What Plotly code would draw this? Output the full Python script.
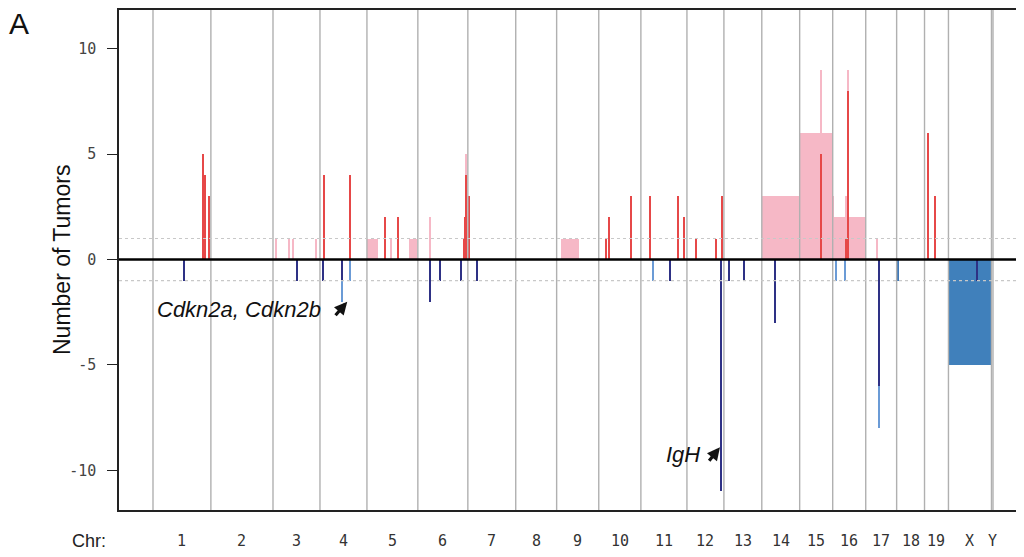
import plotly.graph_objects as go

# ---------------- data ----------------
CHROMS = ["1", "2", "3", "4", "5", "6", "7", "8", "9", "10", "11", "12", "13",
          "14", "15", "16", "17", "18", "19", "X", "Y"]
CHROM_LEN_MB = [191, 205, 155, 155, 168, 165, 158, 135, 139, 139, 152, 122, 125,
                125, 109, 109, 102, 92, 79, 142, 5]

# gain regions (light pink): chromosome, start Mb, end Mb, tumors
GAIN_REG_CHR = ["3", "3", "3", "3", "5", "5", "5", "6", "6", "9", "14", "15", "15", "16", "16", "16", "16", "17"]
GAIN_REG_START = [12, 52, 65, 142, 0, 76, 139, 40, 161, 15, 0, 0, 72, 0, 0, 44, 52, 39]
GAIN_REG_END = [12, 52, 65, 142, 35, 83, 166, 40, 161, 74, 125, 109, 72, 5, 111, 44, 52, 39]
GAIN_REG_VAL = [1, 1, 1, 1, 1, 1, 1, 2, 5, 1, 3, 6, 9, 3, 2, 3, 9, 1]

# focal gains (red)
GAIN_CHR = ["1", "1", "1", "4", "4", "5", "5", "6", "6", "6", "7", "10", "10", "10",
            "11", "11", "11", "12", "12", "12", "15", "16", "16", "19", "19"]
GAIN_START = [166, 171, 184, 13, 101, 59, 103, 148, 155, 161, 3, 23, 36, 108,
              30, 123, 142, 30, 97, 116, 72, 44, 52, 11, 34]
GAIN_END = [166, 171, 184, 13, 101, 59, 103, 163, 155, 161, 3, 23, 36, 108,
            30, 123, 142, 30, 97, 116, 72, 44, 52, 11, 34]
GAIN_VAL = [5, 4, 3, 4, 4, 2, 2, 1, 2, 4, 3, 1, 2, 3, 3, 3, 2, 1, 1, 3, 5, 1, 8, 6, 3]

# losses (steel blue)
LOSS_REG_CHR = ["X", "12", "18"]
LOSS_REG_START = [0, 110, 4]
LOSS_REG_END = [142, 116, 8]
LOSS_REG_VAL = [-5, -4, -1]

# losses (light blue)
LOSS_LT_CHR = ["4", "4", "11", "16", "16", "17"]
LOSS_LT_START = [74, 101, 42, 12, 40, 43]
LOSS_LT_END = [74, 101, 42, 12, 40, 43]
LOSS_LT_VAL = [-2, -1, -1, -1, -1, -8]

# losses (dark navy)
LOSS_CHR = ["1", "3", "4", "4", "6", "6", "6", "7", "11", "12", "13", "13", "14", "17", "X"]
LOSS_START = [102, 81, 10, 74, 40, 71, 144, 31, 96, 113, 16, 64, 43, 43, 95]
LOSS_END = [102, 81, 10, 74, 40, 76, 144, 31, 96, 113, 16, 70, 43, 43, 95]
LOSS_VAL = [-1, -1, -1, -1, -2, -1, -1, -1, -1, -11, -1, -1, -3, -6, -1]

Y_TICKS = [-10, -5, 0, 5, 10]

# ---------------- helpers ----------------
offset = {}
acc = 0
for c, L in zip(CHROMS, CHROM_LEN_MB):
    offset[c] = acc
    acc += L
GENOME_END = acc
MB_PER_PX = 3.3
MIN_W = 4.6
PLOT_W = 905
PLOT_H = 500

def series(chrs, starts, ends, vals, color):
    xs = [offset[c] + (s + e) / 2 for c, s, e in zip(chrs, starts, ends)]
    ws = [max(e - s, MIN_W) for s, e in zip(starts, ends)]
    return go.Bar(x=xs, y=vals, width=ws, base=0,
                  marker=dict(color=color, line=dict(width=0)), opacity=1,
                  showlegend=False, hoverinfo="skip")

fig = go.Figure()
fig.add_trace(series(GAIN_REG_CHR, GAIN_REG_START, GAIN_REG_END, GAIN_REG_VAL, "#f6b8c6"))
fig.add_trace(series(GAIN_CHR, GAIN_START, GAIN_END, GAIN_VAL, "#e64848"))
fig.add_trace(series(LOSS_REG_CHR[:1], LOSS_REG_START[:1], LOSS_REG_END[:1], LOSS_REG_VAL[:1], "#4080bb"))
fig.add_trace(series(LOSS_LT_CHR, LOSS_LT_START, LOSS_LT_END, LOSS_LT_VAL, "#6b9bd6"))
fig.add_trace(series(LOSS_REG_CHR[1:], LOSS_REG_START[1:], LOSS_REG_END[1:], LOSS_REG_VAL[1:], "#3f78b8"))
fig.add_trace(series(LOSS_CHR, LOSS_START, LOSS_END, LOSS_VAL, "#2e3185"))

x_lo = -34 * MB_PER_PX
x_hi = 871 * MB_PER_PX
y_lo, y_hi = -11.88, 11.84

shapes = []
bounds = [offset[c] for c in CHROMS] + [GENOME_END]
for b in bounds:
    shapes.append(dict(type="line", xref="x", yref="paper", x0=b, x1=b, y0=0, y1=1,
                       line=dict(color="#b0b0b0", width=1.4), layer="above"))
for yv in (1, -1):
    shapes.append(dict(type="line", xref="paper", yref="y", x0=0, x1=1, y0=yv, y1=yv,
                       line=dict(color="#c8c8c8", width=1.2, dash="dot"), layer="above"))
shapes.append(dict(type="line", xref="paper", yref="y", x0=0, x1=1, y0=0, y1=0,
                   line=dict(color="black", width=2.5), layer="above"))

# label rows are placed relative to the plot area (plot left = 119 px, bottom = 510 px on page)
annotations = []
for c, L in zip(CHROMS, CHROM_LEN_MB):
    annotations.append(dict(x=offset[c] + L / 2, y=-(541 - 510) / PLOT_H, xref="x", yref="paper",
                            text=c, showarrow=False, xanchor="center", yanchor="middle",
                            font=dict(family="DejaVu Sans Mono", size=15, color="#333")))
annotations.append(dict(x=(108 - 119) / PLOT_W, y=-(541 - 510) / PLOT_H, xref="paper", yref="paper",
                        text="Chr:", showarrow=False, xanchor="right", yanchor="middle",
                        font=dict(family="Liberation Sans", size=18, color="#222")))
annotations.append(dict(x=(62 - 119) / PLOT_W, y=0.5, xref="paper", yref="paper",
                        text="Number of Tumors", textangle=-90, showarrow=False,
                        xanchor="center", yanchor="middle",
                        font=dict(family="Liberation Sans", size=23, color="#111")))
annotations.append(dict(x=(7 - 119) / PLOT_W, y=(510 - 23) / PLOT_H, xref="paper", yref="paper",
                        text="A", showarrow=False, xanchor="left", yanchor="middle",
                        font=dict(family="Liberation Sans", size=30, color="#111")))
# gene labels
cdkn_x = offset["4"] + 74
igh_x = offset["12"] + 113
annotations.append(dict(x=(323 - 153) * MB_PER_PX, y=-2.39, xref="x", yref="y",
                        text="<i>Cdkn2a, Cdkn2b</i>", showarrow=False,
                        xanchor="right", yanchor="middle",
                        font=dict(family="Liberation Sans", size=22, color="#111")))
annotations.append(dict(x=cdkn_x + 16, y=-2.0, xref="x", yref="y", text="",
                        showarrow=True, arrowhead=2, arrowsize=0.8, arrowwidth=3.2,
                        arrowcolor="#111", ax=-13, ay=15))
annotations.append(dict(x=(701.7 - 153) * MB_PER_PX, y=-9.27, xref="x", yref="y",
                        text="<i>IgH</i>", showarrow=False,
                        xanchor="right", yanchor="middle",
                        font=dict(family="Liberation Sans", size=22, color="#111")))
annotations.append(dict(x=igh_x - 4, y=-8.9, xref="x", yref="y", text="",
                        showarrow=True, arrowhead=2, arrowsize=0.8, arrowwidth=3.2,
                        arrowcolor="#111", ax=-12, ay=15))

# the page body adds an 8 px margin, so the figure is 8 px smaller and margins shifted
fig.update_layout(
    width=1016, height=549,
    margin=dict(l=111, r=0, t=2, b=47),
    paper_bgcolor="white", plot_bgcolor="white",
    barmode="overlay", bargap=0,
    shapes=shapes, annotations=annotations,
    xaxis=dict(range=[x_lo, x_hi], showgrid=False, zeroline=False, showticklabels=False,
               ticks="", showline=True, mirror=True, linecolor="#222", linewidth=1.5,
               fixedrange=True),
    yaxis=dict(range=[y_lo, y_hi], showgrid=False, zeroline=False,
               tickvals=Y_TICKS, ticktext=[str(v) for v in Y_TICKS],
               ticks="outside", ticklen=10, tickwidth=1.3, tickcolor="#222",
               ticklabelstandoff=8,
               tickfont=dict(family="DejaVu Sans Mono", size=15, color="#444"),
               showline=True, mirror=False, linecolor="#222", linewidth=1.5,
               fixedrange=True),
)

fig.write_html("out.html", config={"displayModeBar": False})
